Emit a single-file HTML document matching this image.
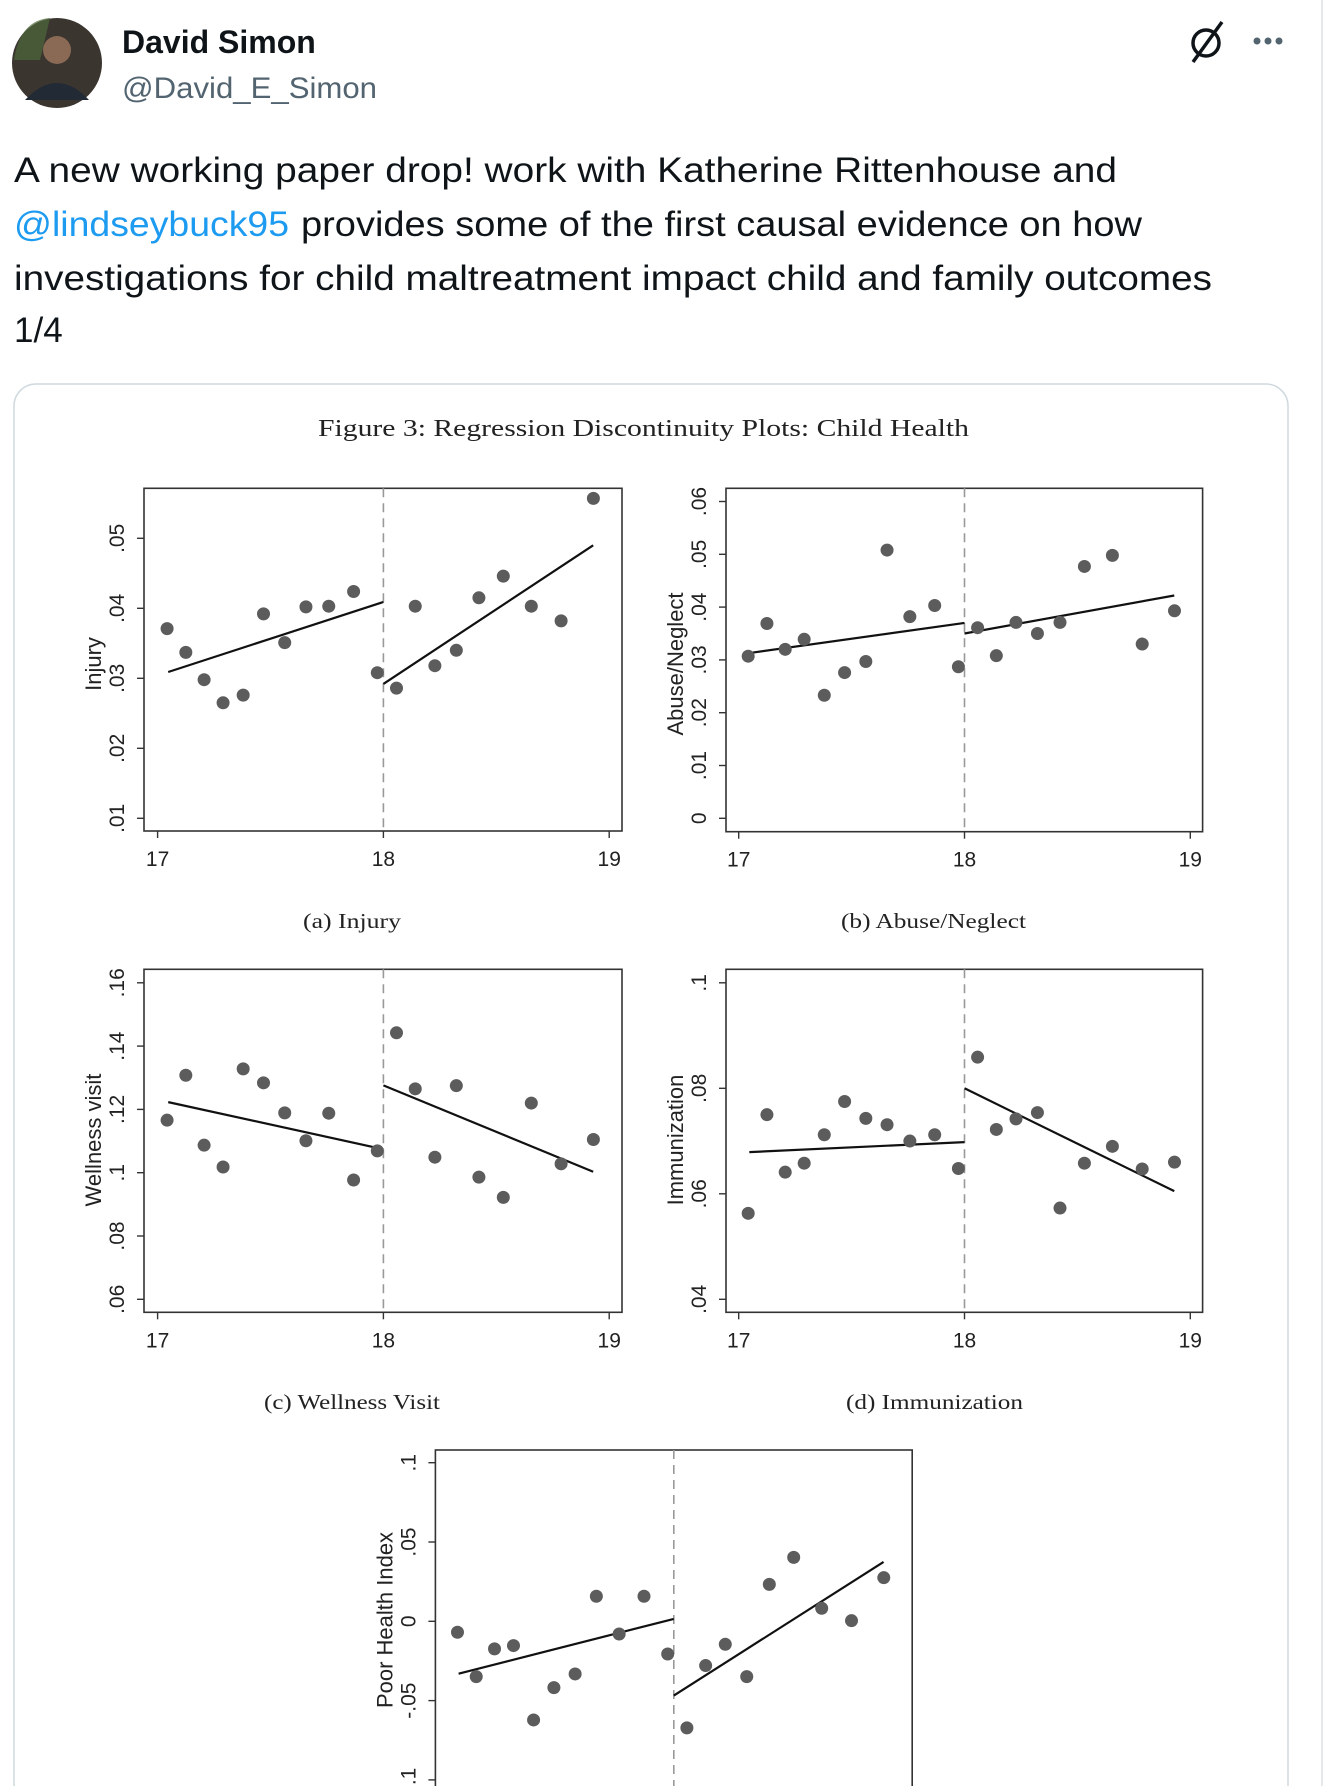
<!DOCTYPE html>
<html><head><meta charset="utf-8">
<style>
html,body{margin:0;padding:0;background:#fff;}
svg{display:block;}
</style></head>
<body>
<svg id="page" xmlns="http://www.w3.org/2000/svg" width="1328" height="1786" viewBox="0 0 1328 1786">
  <rect x="0" y="0" width="1328" height="1786" fill="#fff"/>
  <line x1="1322" y1="0" x2="1322" y2="1786" stroke="#e6e9eb" stroke-width="2"/>
  <g>
    <circle cx="57" cy="63" r="45" fill="#3b3530"/>
    <circle cx="57" cy="50" r="14" fill="#8a6a55"/>
    <path d="M25 100 Q57 66 89 100 Z" fill="#222a36"/>
    <path d="M14 60 Q20 20 50 18 L40 60 Z" fill="#4d6a3a" opacity="0.7"/>
  </g>
  <text x="122" y="53" font-family="Liberation Sans, sans-serif" font-size="32" font-weight="bold" fill="#0f1419">David Simon</text>
  <text x="122" y="98" font-family="Liberation Sans, sans-serif" font-size="30" fill="#536471" textLength="255" lengthAdjust="spacingAndGlyphs">@David_E_Simon</text>
  <g stroke="#0f1419" fill="none" stroke-width="3.5">
    <circle cx="1206" cy="43" r="13"/>
    <line x1="1193" y1="62" x2="1222" y2="22"/>
  </g>
  <g fill="#536471">
    <circle cx="1257" cy="41" r="3.5"/><circle cx="1268" cy="41" r="3.5"/><circle cx="1279" cy="41" r="3.5"/>
  </g>
  <g font-family="Liberation Sans, sans-serif" font-size="35" fill="#0f1419">
    <text x="14" y="182" textLength="1103" lengthAdjust="spacingAndGlyphs">A new working paper drop!  work with Katherine Rittenhouse and</text>
    <text x="14" y="236"><tspan fill="#1d9bf0" textLength="275" lengthAdjust="spacingAndGlyphs">@lindseybuck95</tspan><tspan x="301" textLength="841" lengthAdjust="spacingAndGlyphs">provides some of the first causal evidence on how</tspan></text>
    <text x="14" y="290" textLength="1198" lengthAdjust="spacingAndGlyphs">investigations for child maltreatment impact child and family outcomes</text>
    <text x="14" y="342">1/4</text>
  </g>
  <rect x="14" y="384" width="1274" height="1430" rx="22" fill="#fff" stroke="#cfd9de" stroke-width="1.5"/>
  <text x="318" y="436" font-family="Liberation Serif, serif" font-size="24" fill="#222" textLength="651" lengthAdjust="spacingAndGlyphs">Figure 3: Regression Discontinuity Plots: Child Health</text>
  <g id="charts"></g>
  <g font-family="Liberation Serif, serif" font-size="21" fill="#222">
    <text x="303" y="928" textLength="98" lengthAdjust="spacingAndGlyphs">(a) Injury</text>
    <text x="841" y="928" textLength="185" lengthAdjust="spacingAndGlyphs">(b) Abuse/Neglect</text>
    <text x="264" y="1409" textLength="176" lengthAdjust="spacingAndGlyphs">(c) Wellness Visit</text>
    <text x="846" y="1409" textLength="177" lengthAdjust="spacingAndGlyphs">(d) Immunization</text>
  </g>
</svg>
<script>
const xBins = [17.042,17.125,17.206,17.29,17.379,17.469,17.563,17.657,17.758,17.868,17.973,18.058,18.141,18.228,18.323,18.423,18.531,18.655,18.787,18.93];
const injuryVals = [.0371,.0337,.0298,.0265,.0276,.0392,.0351,.0402,.0403,.0424,.0308,.0286,.0403,.0318,.0340,.0415,.0446,.0403,.0382,.0557];
const abuseVals = [.0307,.0369,.0320,.0339,.0233,.0276,.0297,.0508,.0382,.0403,.0287,.0361,.0308,.0371,.0350,.0371,.0477,.0498,.0330,.0393];
const wellnessVals = [.1166,.1308,.1087,.1018,.1328,.1284,.1189,.1101,.1188,.0977,.1069,.1442,.1265,.1049,.1275,.0986,.0922,.1220,.1028,.1105];
const immunVals = [.0563,.0750,.0641,.0658,.0712,.0775,.0743,.0731,.0700,.0712,.0648,.0859,.0722,.0742,.0754,.0573,.0658,.0690,.0647,.0660];
const poorVals = [-.0069,-.0349,-.0174,-.0153,-.0622,-.0418,-.0332,.0158,-.0080,.0158,-.0206,-.0672,-.0279,-.0145,-.0349,.0233,.0403,.0082,.0004,.0275];
const fitX = [17.047,18,18,18.929];
const injuryFit = [.0309,.0409,.0292,.0490];
const abuseFit = [.0313,.0370,.0350,.0422];
const wellnessFit = [.1223,.1074,.1276,.1003];
const immunFit = [.0679,.0698,.0800,.0605];
const poorFit = [-.033,.0015,-.0468,.0374];
const xTicks = [17,18,19];
const xTickLabels = ["17","18","19"];
const injuryTicks = [.01,.02,.03,.04,.05];
const injuryTickLabels = [".01",".02",".03",".04",".05"];
const abuseTicks = [0,.01,.02,.03,.04,.05,.06];
const abuseTickLabels = ["0",".01",".02",".03",".04",".05",".06"];
const wellnessTicks = [.06,.08,.1,.12,.14,.16];
const wellnessTickLabels = [".06",".08",".1",".12",".14",".16"];
const immunTicks = [.04,.06,.08,.1];
const immunTickLabels = [".04",".06",".08",".1"];
const poorTicks = [-.1,-.05,0,.05,.1];
const poorTickLabels = ["-.1","-.05","0",".05",".1"];

const NS = "http://www.w3.org/2000/svg";
const root = document.getElementById("charts");
function mk(tag, attrs, parent){
  const e = document.createElementNS(NS, tag);
  for (const k in attrs) e.setAttribute(k, attrs[k]);
  parent.appendChild(e);
  return e;
}
function drawPanel(p){
  const g = mk("g", {}, root);
  
  
  const xs = v => p.x17 + (v - 17) * 225.8;
  const ys = v => p.yRefPx - (v - p.yRef) * p.ppu;
  const frame = mk("rect", {x:p.left, y:p.top, width:p.right-p.left, height:p.bottom-p.top, fill:"#fff", stroke:"#333", "stroke-width":1.6}, g);
  
  
  xTicks.forEach((t,i)=>{
    const tk = mk("line", {x1:xs(t), x2:xs(t), y1:p.bottom, y2:p.bottom+7, stroke:"#333", "stroke-width":1.4}, g);
    
    
    const tl = mk("text", {x:xs(t), y:p.bottom+35, "text-anchor":"middle", "font-family":"Liberation Sans, sans-serif", "font-size":21, fill:"#222"}, g);
    tl.textContent = xTickLabels[i];
    
    
  });
  p.ticks.forEach((t,i)=>{
    const y = ys(t);
    const tk = mk("line", {x1:p.left-7, x2:p.left, y1:y, y2:y, stroke:"#333", "stroke-width":1.4}, g);
    
    
    const lx = p.left - 20;
    const tl = mk("text", {x:lx, y:y, transform:"rotate(-90 "+lx+" "+y+")", "text-anchor":"middle", "font-family":"Liberation Sans, sans-serif", "font-size":21, fill:"#222"}, g);
    tl.textContent = p.tickLabels[i];
    
    
  });
  const tx = p.left - 43, ty = p.titleY;
  const title = mk("text", {x:tx, y:ty, transform:"rotate(-90 "+tx+" "+ty+")", "text-anchor":"middle", "font-family":"Liberation Sans, sans-serif", "font-size":22, fill:"#222"}, g);
  title.textContent = p.title;
  
  
  const cut = mk("line", {x1:xs(18), x2:xs(18), y1:p.top, y2:p.bottom, stroke:"#999", "stroke-width":1.6, "stroke-dasharray":"9 6"}, g);
  
  
  for (let k=0;k<2;k++){
    const fl = mk("line", {x1:xs(fitX[2*k]), y1:ys(p.fit[2*k]), x2:xs(fitX[2*k+1]), y2:ys(p.fit[2*k+1]), stroke:"#111", "stroke-width":2.2}, g);
    
    
  }
  p.vals.forEach((v,i)=>{
    const c = mk("circle", {cx:xs(xBins[i]), cy:ys(v), r:6.5, fill:"#5c5c5c"}, g);
    
    
  });
}
drawPanel({name:"injury-panel", left:144, right:622, top:488.3, bottom:831, x17:157.6, yRef:.05, yRefPx:538.3, ppu:7000, ticks:injuryTicks, tickLabels:injuryTickLabels, title:"Injury", titleY:664, vals:injuryVals, fit:injuryFit});
drawPanel({name:"abuse-neglect-panel", left:726, right:1202.6, top:488.3, bottom:831.7, x17:738.7, yRef:0, yRefPx:818.3, ppu:5280, ticks:abuseTicks, tickLabels:abuseTickLabels, title:"Abuse/Neglect", titleY:664, vals:abuseVals, fit:abuseFit});
drawPanel({name:"wellness-visit-panel", left:144, right:622, top:969.3, bottom:1312.3, x17:157.6, yRef:.06, yRefPx:1299.3, ppu:3165, ticks:wellnessTicks, tickLabels:wellnessTickLabels, title:"Wellness visit", titleY:1140, vals:wellnessVals, fit:wellnessFit});
drawPanel({name:"immunization-panel", left:726, right:1202.6, top:969.3, bottom:1312.3, x17:738.7, yRef:.04, yRefPx:1299.3, ppu:5275, ticks:immunTicks, tickLabels:immunTickLabels, title:"Immunization", titleY:1140, vals:immunVals, fit:immunFit});
drawPanel({name:"poor-health-index-panel", left:435.4, right:912.2, top:1450, bottom:1830, x17:448, yRef:0, yRefPx:1621.3, ppu:1586, ticks:poorTicks, tickLabels:poorTickLabels, title:"Poor Health Index", titleY:1620, vals:poorVals, fit:poorFit});
</script>
</body></html>
